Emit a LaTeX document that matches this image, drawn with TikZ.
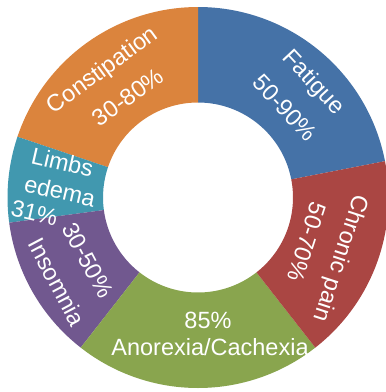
\documentclass[tikz,border=0pt]{standalone}
\usepackage{fontspec}
\setmainfont{Liberation Sans}
\definecolor{cblue}{HTML}{4572A7}
\definecolor{cred}{HTML}{AA4643}
\definecolor{cgreen}{HTML}{89A54E}
\definecolor{cpurple}{HTML}{71588F}
\definecolor{cteal}{HTML}{4198AF}
\definecolor{corange}{HTML}{DB843D}
\tikzset{
  lbl/.style={text=white, inner sep=0pt, font=\fontsize{23.5}{28}\selectfont},
}
\newcommand{\ringseg}[3]{%
  \fill[#1] (198pt,-197.5pt) ++(#2:190.5pt) arc[start angle=#2, end angle=#3, radius=190.5pt]
    -- ($(198pt,-197.5pt)+(#3:95pt)$) arc[start angle=#3, end angle=#2, radius=95pt] -- cycle;}
\usetikzlibrary{calc}
\begin{document}
\begin{tikzpicture}[x=1pt,y=1pt]
\useasboundingbox (0,0) rectangle (386,-392);
\clip (0,0) rectangle (386,-392);
\coordinate (c) at (198,-197.5);
\ringseg{cblue}{11}{90}
\ringseg{corange}{90}{161.4}
\ringseg{cteal}{161.4}{187.6}
\ringseg{cpurple}{187.6}{232}
\ringseg{cgreen}{232}{308}
\ringseg{cred}{308}{371}
% labels
\node[lbl, rotate=-47] (fat1) at (313,-83) {Fatigue};
\node[lbl, rotate=-47] (fat2) at (285,-108) {50-90\%};
\node[lbl, rotate=-108] (chr1) at (340,-258) {Chronic pain};
\node[lbl, rotate=-108] (chr2) at (307,-242) {50-70\%};
\node[lbl] (ano1) at (208,-320) {85\%};
\node[lbl] (ano2) at (210,-347) {Anorexia/Cachexia};
\node[lbl, rotate=-62] (ins1) at (88,-260) {30-50\%};
\node[lbl, rotate=-62] (ins2) at (57,-282) {Insomnia};
\node[lbl, rotate=-13] (lim1) at (62.5,-162) {Limbs};
\node[lbl, rotate=-13] (lim2) at (60,-191) {edema};
\node[lbl, rotate=-13] (lim3) at (34.5,-213) {31\%};
\node[lbl, rotate=36] (con1) at (103,-71) {Constipation};
\node[lbl, rotate=36] (con2) at (128,-97) {30-80\%};
\end{tikzpicture}
\end{document}
